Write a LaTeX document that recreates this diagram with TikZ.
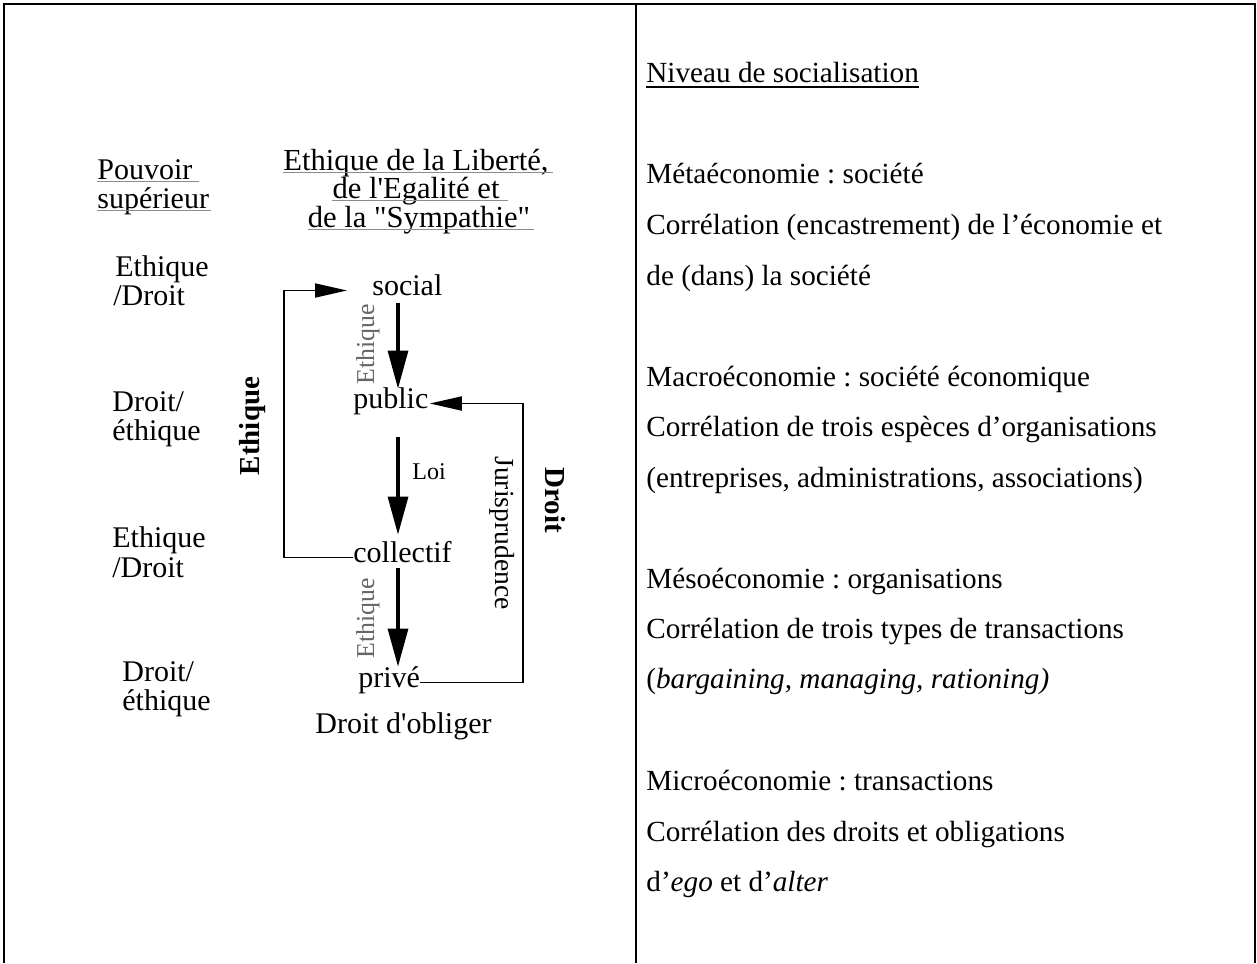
\documentclass[tikz,border=0pt]{standalone}
\usepackage{fontspec}
\setmainfont{Liberation Serif}
\usepackage{xcolor}
\usetikzlibrary{arrows.meta,positioning,calc}
\tikzset{>=latex}
\frenchspacing

\begin{document}
\begin{tikzpicture}[x=0.5pt,y=-0.5pt,
  txt/.style={inner sep=0pt,anchor=base west,font=\fontsize{15}{18}\selectfont},
  head/.style={inner sep=0pt,anchor=base,font=\fontsize{15.3}{18}\selectfont},
  rtxt/.style={inner sep=0pt,anchor=base west,font=\fontsize{14.6}{18}\selectfont},
  lev/.style={txt,text height=0.7em,text depth=0.25em},
  small/.style={inner sep=0pt,font=\fontsize{12.9}{15}\selectfont},
  ul/.style={black!45,line width=0.5pt},
  flow/.style={-{Triangle[length=19pt,width=10pt]},line width=1.6pt},
  back/.style={-{Triangle[length=16pt,width=7pt]},line width=0.9pt},
  frame/.style={line width=1.2pt}]
\useasboundingbox (0,0) rectangle (1257,963);

\draw[frame] (4,963) -- (4,4) -- (1255,4) -- (1255,963);
\draw[frame] (636,4) -- (636,963);

\node[txt] (pv) at (97,179) {Pouvoir};
\node[txt] (sup) at (97,208) {supérieur};
\node[head] (h1) at (416,170) {Ethique de la Liberté,};
\node[head] (h2) at (416,198) {de l\textquotesingle Egalité et};
\node[head] (h3) at (419,227) {de la \textquotedbl Sympathie\textquotedbl};
\draw[ul] ([yshift=-1pt]pv.base west) -- ([yshift=-1pt,xshift=3pt]pv.base east);
\draw[ul] ([yshift=-1pt]sup.base west) -- ([yshift=-1pt,xshift=1pt]sup.base east);
\draw[ul] ([yshift=-1pt]h1.base west) -- ([yshift=-1pt,xshift=2pt]h1.base east);
\draw[ul] ([yshift=-1pt]h2.base west) -- ([yshift=-1pt,xshift=4pt]h2.base east);
\draw[ul] ([yshift=-1pt]h3.base west) -- ([yshift=-1pt,xshift=2pt]h3.base east);

\node[txt] (l1) at (115,276) {Ethique};
\node[txt] (l2) at (113,305) {/Droit};
\node[txt] (l3) at (112,411) {Droit/};
\node[txt] (l4) at (112,440) {éthique};
\node[txt] (l5) at (112,547) {Ethique};
\node[txt] (l6) at (112,577) {/Droit};
\node[txt] (l7) at (122,681) {Droit/};
\node[txt] (l8) at (122,710) {éthique};

\node[lev] (soc) at (372,295) {social};
\node[lev] (pub) at (353,408) {public};
\node[lev] (col) at (353,562) {collectif};
\node[lev] (pri) at (358,687) {privé};
\node[txt] (obl) at (315,733) {Droit d\textquotesingle obliger};

\coordinate (ax) at (398,0);
\coordinate (lx) at (284,0);
\coordinate (rx) at (523,0);

\draw[flow,shorten <=1.2pt,shorten >=2.5pt] (soc.south -| ax) -- (pub.north -| ax);
\draw[flow,shorten <=11.7pt,shorten >=6.5pt] (pub.south -| ax) -- (col.north -| ax);
\draw[flow,shorten <=0.3pt,shorten >=3pt] (col.south -| ax) -- (pri.north -| ax);
\draw[back,shorten >=12.5pt] (col.west) -- (col.west -| lx) |- (soc.west);
\draw[back,shorten >=0.5pt] (pri.east) -- (pri.east -| rx) |- (pub.east);

\node[small,black!60,rotate=90] (e1) at (368,344) {Ethique};
\node[small,black!60,rotate=90] (e2) at (368,618) {Ethique};
\node[inner sep=0pt,anchor=base west,font=\fontsize{12}{14}\selectfont] (loi) at (412,479) {Loi};
\node[small,font=\fontsize{13.8}{15}\selectfont,rotate=-90] (jur) at (502,533) {Jurisprudence};
\node[inner sep=0pt,font=\bfseries\fontsize{14.5}{16}\selectfont,rotate=-90] (dro) at (555,500) {Droit};
\node[inner sep=0pt,font=\bfseries\fontsize{14.5}{16}\selectfont,rotate=90] (eth) at (253,426) {Ethique};

\node[rtxt] (r0) at (646,83) {Niveau de socialisation};
\draw[line width=1pt] ([yshift=-2pt]r0.base west) -- ([yshift=-2pt]r0.base east);
\node[rtxt] (r1) at (646,184) {Métaéconomie : société};
\node[rtxt] (r2) at (646,234) {Corrélation (encastrement) de l’économie et};
\node[rtxt] (r3) at (646,285) {de (dans) la société};
\node[rtxt] (r4) at (646,386) {Macroéconomie : société économique};
\node[rtxt] (r5) at (646,436) {Corrélation de trois espèces d’organisations};
\node[rtxt] (r6) at (646,487) {(entreprises, administrations, associations)};
\node[rtxt] (r7) at (646,588) {Mésoéconomie : organisations};
\node[rtxt] (r8) at (646,638) {Corrélation de trois types de transactions};
\node[rtxt] (r9) at (646,688) {(\textit{bargaining, managing, rationing)}};
\node[rtxt] (r10) at (646,790) {Microéconomie : transactions};
\node[rtxt] (r11) at (646,841) {Corrélation des droits et obligations};
\node[rtxt] (r12) at (646,891) {d’\textit{ego} et d’\textit{alter}};
\end{tikzpicture}
\end{document}
